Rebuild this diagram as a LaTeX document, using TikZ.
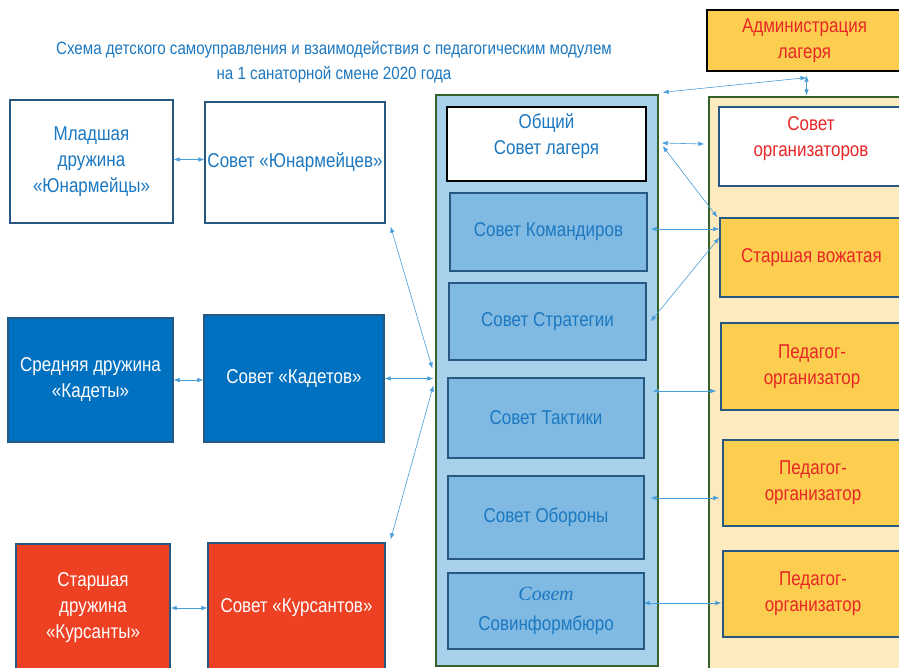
\documentclass[tikz,border=0pt]{standalone}
\usepackage{fontspec}
\setmainfont[FakeStretch=0.85]{Liberation Sans}
\newfontfamily\serifit{Liberation Serif}
\usetikzlibrary{arrows.meta,calc}
\definecolor{tblue}{RGB}{28,120,192}
\definecolor{bdark}{RGB}{38,88,130}
\definecolor{midblue}{RGB}{0,112,192}
\definecolor{redfill}{RGB}{238,64,35}
\definecolor{cbfill}{RGB}{168,210,235}
\definecolor{gborder}{RGB}{52,98,42}
\definecolor{inblue}{RGB}{128,186,226}
\definecolor{cream}{RGB}{253,234,190}
\definecolor{yel}{RGB}{251,206,80}
\definecolor{tred}{RGB}{232,38,38}
\definecolor{arrc}{RGB}{72,158,216}
\tikzset{
  txt/.style={font=\fontsize{20}{26}\selectfont, align=center, inner sep=0pt},
  bx/.style={txt, draw=bdark, line width=1.3pt, minimum width=#1},
  bx/.default=100pt,
  whitebox/.style={fill=white, text=tblue},
  midbox/.style={fill=midblue, text=white},
  redbox/.style={fill=redfill, text=white},
  inbox/.style={fill=inblue, text=tblue},
  yelbox/.style={fill=yel, text=tred},
  raised/.style={text depth=19pt},
  bigbox/.style={draw=gborder, line width=1.3pt, inner sep=0pt},
  arr/.style={draw=arrc, line width=0.6pt, {Latex[length=6pt,width=4.5pt]}-{Latex[length=6pt,width=4.5pt]}},
}
\begin{document}
\begin{tikzpicture}[x=1pt,y=-1pt]
\useasboundingbox (0,0) rectangle (899,668);
\clip (0,0) rectangle (899,668);
\fill[white] (0,0) rectangle (899,668);
% title
\node[txt, text=tblue, font=\fontsize{17.8}{25}\selectfont] (title) at (334,62)
  {Схема детского самоуправления и взаимодействия с педагогическим модулем\\на 1 санаторной смене 2020 года};
% admin
\node[bx=195pt, minimum height=61pt, draw=black, yelbox] (admin) at (804.5,40.5) {Администрация\\лагеря};
% left column
\node[bx=163pt, minimum height=123pt, whitebox] (mlad) at (91.5,161.5) {Младшая\\дружина\\«Юнармейцы»};
\node[bx=180pt, minimum height=121pt, whitebox] (syun) at (295,162.5) {Совет «Юнармейцев»};
\node[bx=165pt, minimum height=124pt, midbox] (sred) at (90.5,380) {Средняя дружина\\«Кадеты»};
\node[bx=180pt, minimum height=127pt, midbox] (skad) at (294,378.5) {Совет «Кадетов»};
\node[bx=154pt, minimum height=128pt, redbox] (starsh) at (93,608) {Старшая\\дружина\\«Курсанты»};
\node[bx=177pt, minimum height=129pt, redbox] (skurs) at (296.5,607.5) {Совет «Курсантов»};
% center column
\node[bigbox, fill=cbfill, minimum width=222pt, minimum height=571pt] (cbig) at (547,380.5) {};
\node[bx=199pt, minimum height=74pt, draw=black, whitebox, raised] (obsh) at (546.5,144) {Общий\\Совет лагеря};
\node[bx=197pt, minimum height=78pt, inbox] (kom) at (548.5,232) {Совет Командиров};
\node[bx=197pt, minimum height=77pt, inbox] (strat) at (547.5,321.5) {Совет Стратегии};
\node[bx=196pt, minimum height=80pt, inbox] (takt) at (546,418) {Совет Тактики};
\node[bx=196pt, minimum height=83pt, inbox] (obor) at (546,517.5) {Совет Обороны};
\node[bx=196pt, minimum height=76pt, inbox, font=\fontsize{20}{30}\selectfont] (sovinf) at (546,611) {{\serifit\itshape Совет}\\Совинформбюро};
% right column
\node[bigbox, fill=cream, minimum width=196pt, minimum height=575pt] (rbig) at (807,384.5) {};
\node[bx=184pt, minimum height=79pt, whitebox, text=tred, raised] (org) at (811,146.5) {Совет\\организаторов};
\node[bx=183pt, minimum height=79pt, yelbox] (vozh) at (811.5,257.5) {Старшая вожатая};
\node[bx=182pt, minimum height=87pt, yelbox] (ped1) at (812,366.5) {Педагог-\\организатор};
\node[bx=180pt, minimum height=86pt, yelbox] (ped2) at (813,483) {Педагог-\\организатор};
\node[bx=180pt, minimum height=86pt, yelbox] (ped3) at (813,594) {Педагог-\\организатор};
% arrow end points
\coordinate (ta) at ([shift={(8pt,27pt)}]takt.east);
\coordinate (ob) at ([shift={(6pt,19.5pt)}]obor.east);
\coordinate (si) at ([shift={(-1pt,8pt)}]sovinf.east);
% arrows
\draw[arr] ([shift={(2pt,-6pt)}]admin.south) -- ([shift={(4pt,2pt)}]cbig.north east);
\draw[arr] ([shift={(2pt,-4pt)}]admin.south) -- ([shift={(2pt,1pt)}]admin.south |- rbig.north);
\draw[arr] ([yshift=2pt]mlad.east) -- ([yshift=2pt]mlad.east -| syun.west);
\draw[arr] ([shift={(5pt,-3pt)}]syun.south east) -- ([shift={(-3pt,12pt)}]cbig.west);
\draw[arr] (skad.east) -- ([xshift=-2pt]skad.east -| cbig.west);
\draw[arr] ([shift={(5pt,3pt)}]skurs.north east) -- ([shift={(-2pt,-5pt)}]cbig.west);
\draw[arr] (sred.east) -- (sred.east -| skad.west);
\draw[arr] (starsh.east) -- (starsh.east -| skurs.west);
\draw[arr] ([shift={(3pt,1pt)}]obsh.east -| cbig.east) -- ([xshift=-4pt]rbig.west |- obsh.east);
\draw[arr] ([shift={(4pt,-2pt)}]obsh.east -| cbig.east) -- ([xshift=-2pt]vozh.north west);
\draw[arr] ([shift={(3pt,3pt)}]kom.east) -- ([yshift=3pt]kom.east -| vozh.west);
\draw[arr] ([xshift=4pt]strat.east) -- ([yshift=20pt]vozh.west);
\draw[arr] (ta) -- ([xshift=-4pt]ped1.west |- ta);
\draw[arr] (ob) -- ([xshift=-3pt]ped2.west |- ob);
\draw[arr] (si) -- ([xshift=-1pt]ped3.west |- si);
\end{tikzpicture}
\end{document}
